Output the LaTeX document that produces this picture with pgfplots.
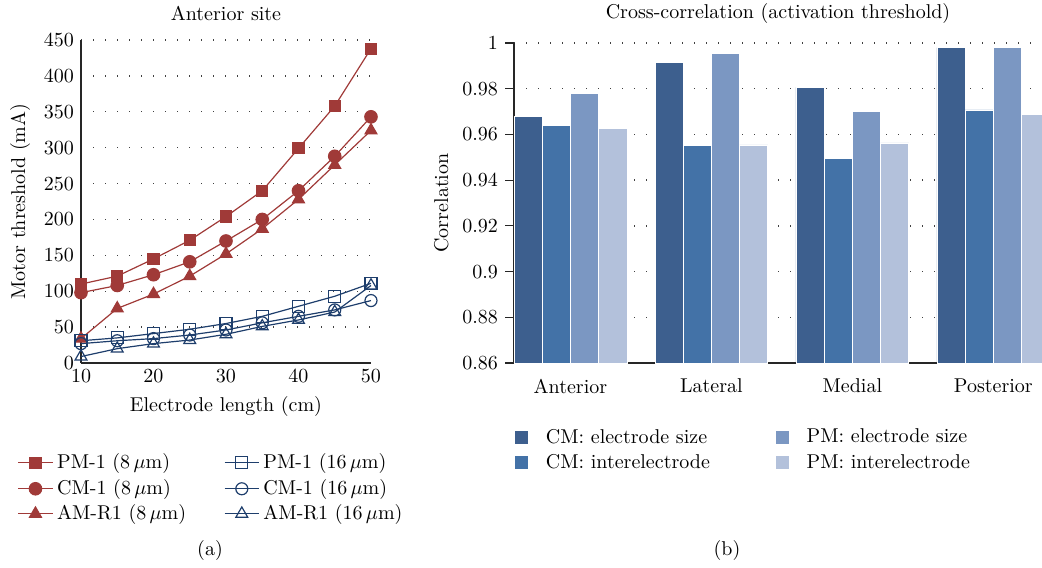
\documentclass[border=0pt]{standalone}
\usepackage{pgfplots}
\pgfplotsset{compat=1.18}
\definecolor{redc}{RGB}{160,58,56}
\definecolor{bluec}{RGB}{30,62,108}
\definecolor{ca}{RGB}{61,95,142}
\definecolor{cb}{RGB}{67,114,167}
\definecolor{cc}{RGB}{123,151,194}
\definecolor{cd}{RGB}{179,193,219}

\pgfplotsset{
  dotgrid/.style={major grid style={black!75, line width=0.7pt, dash pattern=on 0.7pt off 5.3pt}},
  redline/.style={redc, line width=0.6pt, mark options={solid, fill=redc}},
  blueline/.style={bluec, line width=0.6pt, mark options={solid}},
  barleg/.style={legend image code/.code={\fill[#1] (0pt,-3pt) rectangle (6pt,3pt);}},
}

\begin{document}
\begin{tikzpicture}
\useasboundingbox (0,0) rectangle (521pt,-283.5pt);

% (a) thresholds vs electrode length
\begin{axis}[
  at={(40.5pt,-181.5pt)}, anchor=south west,
  scale only axis, width=145pt, height=161.5pt,
  xmin=10, xmax=50, ymin=0, ymax=450,
  xtick={10,20,30,40,50}, ytick={0,50,...,450},
  axis x line*=bottom, axis y line*=left,
  axis line style={-, black!85, line width=0.6pt},
  major tick length=0pt,
  ymajorgrids, dotgrid,
  clip=false,
  title={Anterior site},
  xlabel={Electrode length (cm)},
  ylabel={Motor threshold (mA)},
  legend columns=2,
  legend cell align=left,
  legend style={draw=none, fill=none, at={(-0.24,-0.255)}, anchor=north west,
    /tikz/every even row/.append style={row sep=-0.5pt},
    /tikz/every even column/.append style={column sep=17pt}},
]
\addplot[redline, mark=square*, mark size=2.75pt, forget plot] coordinates {
  (10,110) (15,121) (20,145) (25,171) (30,204) (35,240) (40,299) (45,358) (50,438)};
\addplot[redline, mark=*, mark size=3.1pt, forget plot] coordinates {
  (10,98) (15,108) (20,123) (25,141) (30,170) (35,200) (40,240) (45,288) (50,343)};
\addplot[redline, mark=triangle*, mark size=3.4pt, forget plot] coordinates {
  (10,34) (15,76) (20,96) (25,121) (30,152) (35,187) (40,228) (45,276) (50,324)};
\addplot[blueline, mark=square, mark size=3pt, forget plot] coordinates {
  (10,31) (15,35) (20,41) (25,47) (30,55) (35,65) (40,79) (45,93) (50,111)};
\addplot[blueline, mark=o, mark size=3pt, forget plot] coordinates {
  (10,27) (15,31) (20,34) (25,39) (30,46) (35,56) (40,65) (45,74) (50,87)};
\addplot[blueline, mark=triangle, mark size=3.4pt, forget plot] coordinates {
  (10,9) (15,20) (20,27) (25,32) (30,40) (35,51) (40,60) (45,71) (50,108)};

\addlegendimage{redline, mark=square*, mark size=2.75pt}
\addlegendentry{PM-1 (8\,$\mu$m)}
\addlegendimage{blueline, mark=square, mark size=3pt}
\addlegendentry{PM-1 (16\,$\mu$m)}
\addlegendimage{redline, mark=*, mark size=3.1pt}
\addlegendentry{CM-1 (8\,$\mu$m)}
\addlegendimage{blueline, mark=o, mark size=3pt}
\addlegendentry{CM-1 (16\,$\mu$m)}
\addlegendimage{redline, mark=triangle*, mark size=3.4pt}
\addlegendentry{AM-R1 (8\,$\mu$m)}
\addlegendimage{blueline, mark=triangle, mark size=3.4pt}
\addlegendentry{AM-R1 (16\,$\mu$m)}
\end{axis}

% (b) cross-correlation bars
\begin{axis}[
  at={(257pt,-181.5pt)}, anchor=south west,
  scale only axis, width=264pt, height=160pt,
  xmin=-0.4, xmax=3.345, ymin=0.86, ymax=1,
  xtick={0,1,2,3},
  xticklabels={Anterior,Lateral,Medial,Posterior},
  ytick={0.86,0.88,0.9,0.92,0.94,0.96,0.98,1},
  axis x line*=bottom, axis y line*=left,
  axis line style={-, black!85, line width=0.6pt},
  tick align=outside,
  ytick style={black!85, line width=0.6pt},
  major tick length=4.5pt,
  xtick style={draw=none},
  ymajorgrids, dotgrid,
  title={Cross-correlation (activation threshold)},
  ylabel={Correlation},
  legend columns=2,
  legend cell align=left,
  legend style={draw=none, fill=none, at={(-0.01,-0.18)}, anchor=north west,
    /tikz/every odd column/.append style={column sep=7pt},
    /tikz/every even column/.append style={column sep=31pt}},
]
\addplot[ybar, bar width=0.2, bar shift=-0.3, fill=ca, draw=white, line width=0.3pt, forget plot]
  coordinates {(0,0.9680) (1,0.9916) (2,0.9806) (3,0.9980)};
\addplot[ybar, bar width=0.2, bar shift=-0.1, fill=cb, draw=white, line width=0.3pt, forget plot]
  coordinates {(0,0.9639) (1,0.9551) (2,0.9496) (3,0.9707)};
\addplot[ybar, bar width=0.2, bar shift=0.1, fill=cc, draw=white, line width=0.3pt, forget plot]
  coordinates {(0,0.9781) (1,0.9956) (2,0.9700) (3,0.9980)};
\addplot[ybar, bar width=0.2, bar shift=0.3, fill=cd, draw=white, line width=0.3pt, forget plot]
  coordinates {(0,0.9627) (1,0.9554) (2,0.9563) (3,0.9687)};

\addlegendimage{barleg=ca}
\addlegendentry{CM: electrode size}
\addlegendimage{barleg=cc}
\addlegendentry{PM: electrode size}
\addlegendimage{barleg=cb}
\addlegendentry{CM: interelectrode}
\addlegendimage{barleg=cd}
\addlegendentry{PM: interelectrode}
\end{axis}

\node at (105pt,-275pt) {(a)};
\node at (363.5pt,-275pt) {(b)};
\end{tikzpicture}
\end{document}
